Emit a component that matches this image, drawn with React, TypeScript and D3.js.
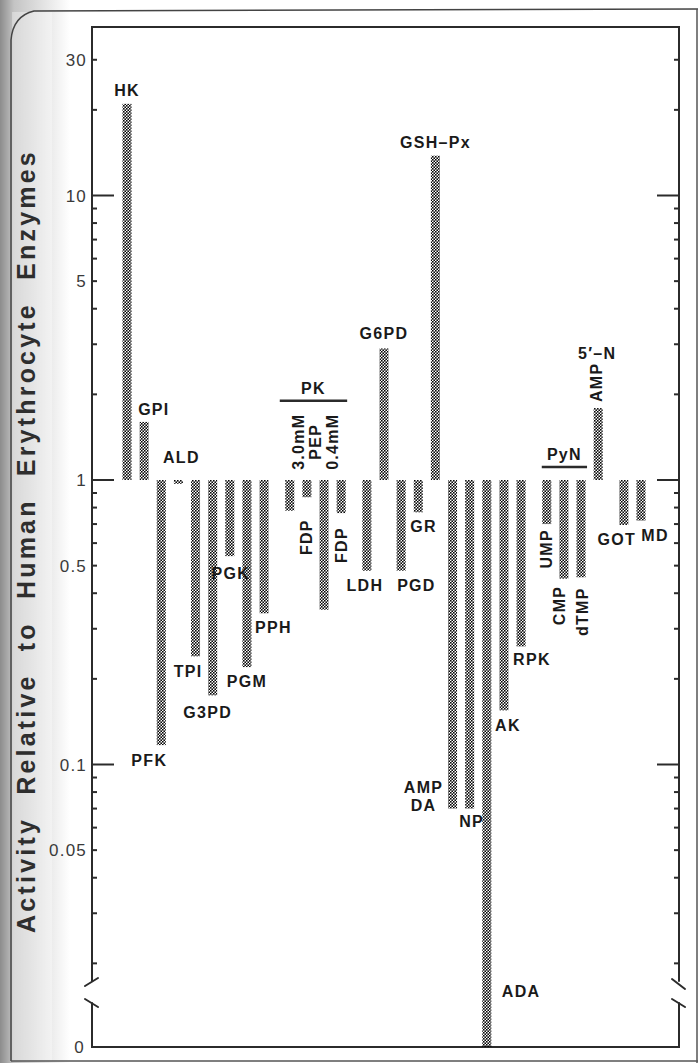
import React, { useRef, useEffect } from 'react';
import * as d3 from 'd3';

// enzymes in the order they sit along the chart
const enzymes = [
  'HK', 'GPI', 'PFK', 'ALD', 'TPI', 'G3PD', 'PGK', 'PGM', 'PPH',
  'PK 3.0mM PEP', 'PK 3.0mM PEP + FDP', 'PK 0.4mM PEP', 'PK 0.4mM PEP + FDP',
  'LDH', 'G6PD', 'PGD', 'GR', 'GSH-Px', 'AMP DA', 'NP', 'ADA', 'AK', 'RPK',
  'PyN UMP', 'PyN CMP', 'PyN dTMP', "5'-N AMP", 'GOT', 'MD',
];
// activity relative to human erythrocyte enzymes (0 = below the axis break)
const activity = [
  21, 1.6, 0.117, 0.97, 0.24, 0.175, 0.54, 0.22, 0.34,
  0.78, 0.87, 0.35, 0.765,
  0.48, 2.9, 0.48, 0.77, 13.8, 0.07, 0.07, 0, 0.155, 0.26,
  0.7, 0.45, 0.455, 1.79, 0.695, 0.72,
];
// cluster each bar belongs to (gaps between clusters)
const groups = [0, 0, 0, 0, 0, 0, 0, 0, 0, 1, 1, 1, 1, 2, 2, 2, 2, 2, 2, 2, 2, 2, 2, 3, 3, 3, 3, 4, 4];

const labelledTicks = [30, 10, 5, 1, 0.5, 0.1, 0.05];
const tickLabels = ['30', '10', '5', '1', '0.5', '0.1', '0.05'];
const majorTicks = [10, 1, 0.1];
const minorTicks = [20, 9, 8, 7, 6, 4, 3, 2, 0.9, 0.8, 0.7, 0.6, 0.4, 0.3, 0.2,
  0.09, 0.08, 0.07, 0.06, 0.04, 0.03, 0.02];

const title = 'Activity Relative to Human Erythrocyte Enzymes';

// label placement, relative to the end of each bar
const labelLayout = {
  'HK': { lines: ['HK'], anchor: 'middle', dx: 0, dy: -8 },
  'GPI': { lines: ['GPI'], anchor: 'start', dx: -6, dy: -7 },
  'PFK': { lines: ['PFK'], anchor: 'end', dx: 6, dy: 21 },
  'ALD': { lines: ['ALD'], anchor: 'middle', dx: 3, dy: -21 },
  'TPI': { lines: ['TPI'], anchor: 'end', dx: 7, dy: 21 },
  'G3PD': { lines: ['G3PD'], anchor: 'middle', dx: -5, dy: 23 },
  'PGK': { lines: ['PGK'], anchor: 'middle', dx: 1, dy: 23 },
  'PGM': { lines: ['PGM'], anchor: 'middle', dx: 0, dy: 20 },
  'PPH': { lines: ['PPH'], anchor: 'start', dx: -9, dy: 20 },
  'PK 3.0mM PEP + FDP': { lines: ['FDP'], anchor: 'end', dx: 5, dy: 22, rotate: true },
  'PK 0.4mM PEP + FDP': { lines: ['FDP'], anchor: 'end', dx: 6, dy: 14, rotate: true },
  'LDH': { lines: ['LDH'], anchor: 'middle', dx: -2, dy: 20 },
  'G6PD': { lines: ['G6PD'], anchor: 'middle', dx: 0, dy: -9 },
  'PGD': { lines: ['PGD'], anchor: 'start', dx: -4, dy: 20 },
  'GR': { lines: ['GR'], anchor: 'start', dx: -8, dy: 20 },
  'GSH-Px': { lines: ['GSH\u2013Px'], anchor: 'middle', dx: 0, dy: -8 },
  'AMP DA': { lines: ['AMP', 'DA'], anchor: 'middle', dx: -29, dy: -16 },
  'NP': { lines: ['NP'], anchor: 'middle', dx: 2, dy: 18 },
  'ADA': { lines: ['ADA'], anchor: 'start', dx: 15, dy: -50 },
  'AK': { lines: ['AK'], anchor: 'middle', dx: 4, dy: 21 },
  'RPK': { lines: ['RPK'], anchor: 'start', dx: -8, dy: 19 },
  'PyN UMP': { lines: ['UMP'], anchor: 'end', dx: 5, dy: 5, rotate: true },
  'PyN CMP': { lines: ['CMP'], anchor: 'end', dx: 1, dy: 7, rotate: true },
  'PyN dTMP': { lines: ['dTMP'], anchor: 'end', dx: 7, dy: 10, rotate: true },
  "5'-N AMP": { lines: ['AMP'], anchor: 'start', dx: 4, dy: -6, rotate: true },
  'GOT': { lines: ['GOT'], anchor: 'middle', dx: -7, dy: 20 },
  'MD': { lines: ['MD'], anchor: 'middle', dx: 14, dy: 20 },
};

function App() {
  const ref = useRef(null);

  useEffect(() => {
    document.body.style.margin = '0';
    const svg = d3.select(ref.current);
    svg.selectAll('*').remove();

    const W = 698, H = 1063;
    const frame = { left: 92, right: 679, top: 27, bottom: 1047 };
    const breakTop = 981, breakBottom = 1003;

    const slots = enzymes.map((d, i) => i + groups[i] * 0.5);
    const x = d3.scaleLinear().domain([0, 30]).range([127, 641]);
    const y = d3.scaleLog().domain([0.1, 10]).range([764.5, 195.5]);
    const yv = (v) => (v > 0 ? y(v) : frame.bottom);
    const barW = 9;
    const ink = '#2b2b2b';
    const font = 'Liberation Sans, Arial, Helvetica, sans-serif';

    const defs = svg.append('defs');
    const grad = defs.append('linearGradient').attr('id', 'scan')
      .attr('x1', 0).attr('x2', 1).attr('y1', 0).attr('y2', 0);
    grad.append('stop').attr('offset', 0).attr('stop-color', '#8c8c8c');
    grad.append('stop').attr('offset', 0.2).attr('stop-color', '#c4c4c4');
    grad.append('stop').attr('offset', 1).attr('stop-color', '#ffffff');
    const pat = defs.append('pattern').attr('id', 'dots')
      .attr('width', 3).attr('height', 3).attr('patternUnits', 'userSpaceOnUse');
    pat.append('circle').attr('cx', 0.75).attr('cy', 0.75).attr('r', 0.9).attr('fill', '#000');
    pat.append('circle').attr('cx', 2.25).attr('cy', 2.25).attr('r', 0.9).attr('fill', '#000');

    // paper + scan shading
    svg.append('rect').attr('width', W).attr('height', H).attr('fill', '#fff');
    svg.append('rect').attr('width', 70).attr('height', H).attr('fill', 'url(#scan)');
    svg.append('rect').attr('x', 12).attr('y', 12).attr('width', 40).attr('height', H - 14)
      .attr('fill', '#fff').attr('opacity', 0.35);

    // outer page border
    svg.append('path')
      .attr('d', `M11,${H - 2} L11,40 Q13,16 34,11 L${W},9`)
      .attr('fill', 'none').attr('stroke', '#444').attr('stroke-width', 1.5);
    svg.append('line').attr('x1', 697).attr('x2', 697).attr('y1', 9).attr('y2', H)
      .attr('stroke', '#555').attr('stroke-width', 1.5);
    svg.append('line').attr('x1', 11).attr('x2', W).attr('y1', 1061).attr('y2', 1061)
      .attr('stroke', '#555').attr('stroke-width', 1.5);

    // plot frame with axis breaks
    const fr = svg.append('g').attr('fill', 'none').attr('stroke', ink)
      .attr('stroke-width', 2).attr('stroke-linecap', 'round');
    fr.append('path').attr('d',
      `M${frame.left},${breakTop} L${frame.left},${frame.top} L${frame.right},${frame.top} L${frame.right},${breakTop}`);
    fr.append('path').attr('d',
      `M${frame.left},${breakBottom} L${frame.left},${frame.bottom} L${frame.right},${frame.bottom} L${frame.right},${breakBottom}`);
    [[frame.left, 1], [frame.right, -1]].forEach(([ax, s]) => {
      fr.append('line').attr('x1', ax - 7).attr('y1', breakTop + (s > 0 ? 5 : -2))
        .attr('x2', ax + 6).attr('y2', breakTop + (s > 0 ? -3 : 8));
      fr.append('line').attr('x1', ax - 7).attr('y1', breakBottom - 4)
        .attr('x2', ax + 6).attr('y2', breakBottom + 4);
    });

    // ticks, inward on both sides
    const ticks = svg.append('g').attr('stroke', ink).attr('stroke-width', 2);
    const allTicks = [...labelledTicks.filter((t) => !majorTicks.includes(t)), ...minorTicks];
    allTicks.forEach((t) => {
      ticks.append('line').attr('x1', frame.left).attr('x2', frame.left + 5)
        .attr('y1', y(t)).attr('y2', y(t));
      ticks.append('line').attr('x1', frame.right).attr('x2', frame.right - 5)
        .attr('y1', y(t)).attr('y2', y(t));
    });
    majorTicks.forEach((t) => {
      ticks.append('line').attr('x1', frame.left).attr('x2', frame.left + 22)
        .attr('y1', y(t)).attr('y2', y(t));
      ticks.append('line').attr('x1', frame.right).attr('x2', frame.right - 22)
        .attr('y1', y(t)).attr('y2', y(t));
    });

    const tl = svg.append('g').attr('font-family', font).attr('font-size', 17)
      .attr('fill', '#3a3a3a').attr('text-anchor', 'end').attr('letter-spacing', 1.2);
    labelledTicks.forEach((t, i) => {
      tl.append('text').attr('x', 87).attr('y', y(t)).attr('dy', '0.36em').text(tickLabels[i]);
    });
    tl.append('text').attr('x', 85).attr('y', frame.bottom).attr('dy', '0.36em').text('0');

    // axis title
    svg.append('text')
      .attr('transform', `translate(35,541) rotate(-90)`)
      .attr('text-anchor', 'middle')
      .attr('font-family', font).attr('font-weight', 'bold').attr('font-size', 25)
      .attr('letter-spacing', 3.2).attr('word-spacing', 12)
      .attr('fill', '#2e2e2e')
      .text(title);

    // bars, all measured from 1
    const base = y(1);
    svg.append('g').selectAll('rect').data(enzymes).join('rect')
      .attr('x', (d, i) => x(slots[i]) - barW / 2)
      .attr('width', barW)
      .attr('y', (d, i) => Math.min(yv(activity[i]), base))
      .attr('height', (d, i) => Math.abs(yv(activity[i]) - base))
      .attr('fill', 'url(#dots)');

    // bar labels
    const lab = svg.append('g').attr('font-family', font).attr('font-weight', 'bold')
      .attr('font-size', 16).attr('letter-spacing', 1.3).attr('fill', '#1a1a1a');
    enzymes.forEach((name, i) => {
      const L = labelLayout[name];
      if (!L) return;
      const px = x(slots[i]) + L.dx;
      const py = yv(activity[i]) + L.dy;
      L.lines.forEach((line, k) => {
        const t = lab.append('text').attr('text-anchor', L.anchor).text(line);
        if (L.rotate) t.attr('transform', `translate(${px},${py}) rotate(-90)`);
        else t.attr('x', px).attr('y', py + k * 18);
      });
    });

    // 5'-N heading above its AMP label
    const nIdx = enzymes.indexOf("5'-N AMP");
    lab.append('text').attr('text-anchor', 'middle')
      .attr('x', x(slots[nIdx]) - 1).attr('y', yv(activity[nIdx]) - 49).text('5\u2032\u2013N');

    // bracketed groups: PK and PyN
    const brackets = [
      { name: 'PK', prefix: 'PK ', at: 1.9, left: 10, right: 6 },
      { name: 'PyN', prefix: 'PyN ', at: 1.11, left: 5, right: 6 },
    ];
    brackets.forEach((b) => {
      const idx = enzymes.map((d, i) => (d.startsWith(b.prefix) ? i : -1)).filter((i) => i >= 0);
      const x0 = x(slots[idx[0]]) - b.left;
      const x1 = x(slots[idx[idx.length - 1]]) + b.right;
      svg.append('line').attr('x1', x0).attr('x2', x1).attr('y1', y(b.at)).attr('y2', y(b.at))
        .attr('stroke', ink).attr('stroke-width', 2.5);
      lab.append('text').attr('text-anchor', 'middle')
        .attr('x', (x0 + x1) / 2).attr('y', y(b.at) - 7).text(b.name);
    });

    // PK substrate labels sitting between its bars
    const pkIdx = enzymes.map((d, i) => (d.startsWith('PK ') ? i : -1)).filter((i) => i >= 0);
    const pkSub = ['3.0mM', 'PEP', '0.4mM'];
    pkSub.forEach((s, k) => {
      const mid = (x(slots[pkIdx[k]]) + x(slots[pkIdx[k + 1]])) / 2 + 5.5;
      lab.append('text').attr('text-anchor', 'middle')
        .attr('transform', `translate(${mid},${y(1.9) + 41}) rotate(-90)`).text(s);
    });
  }, []);

  return <svg ref={ref} width={698} height={1063} style={{ display: 'block' }}></svg>;
}

export default App;
